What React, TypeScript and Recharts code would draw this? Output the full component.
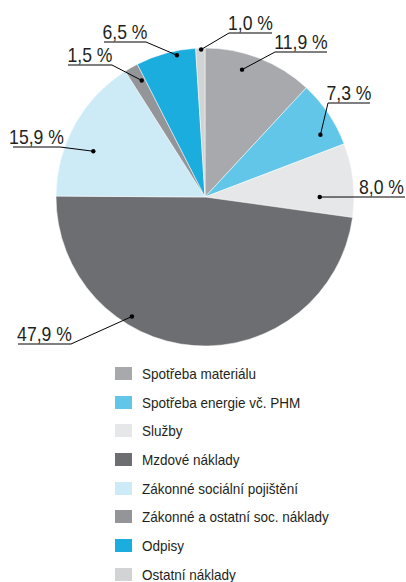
import React from 'react';
import { PieChart, Pie, Cell, Legend } from 'recharts';

// cost categories, clockwise from 12 o'clock
const categories = [
  'Spotřeba materiálu',
  'Spotřeba energie vč. PHM',
  'Služby',
  'Mzdové náklady',
  'Zákonné sociální pojištění',
  'Zákonné a ostatní soc. náklady',
  'Odpisy',
  'Ostatní náklady',
];
const shares = [11.9, 7.3, 8.0, 47.9, 15.9, 1.5, 6.5, 1.0];
const colors = ['#a7a9ac', '#62c6e8', '#e6e7e8', '#6d6e71', '#cdebf7', '#939598', '#1badde', '#d1d3d4'];

// label placement: dot radius (fraction), dot angle shift (deg, clockwise), underline x1/x2/y, leader end side
const labelLayout = [
  { r: 0.89, shift: -5.2, x1: 275, x2: 327, y: 52, side: 'left' },
  { r: 0.88, shift: 5.7, x1: 328, x2: 370, y: 103, side: 'left' },
  { r: 0.77, shift: 6.5, x1: 358, x2: 405, y: 197, side: 'left' },
  { r: 0.94, shift: 27.3, x1: 18, x2: 71, y: 344, side: 'right' },
  { r: 0.81, shift: -6.7, x1: 13, x2: 60, y: 147, side: 'right' },
  { r: 0.89, shift: 1.2, x1: 68, x2: 112, y: 65, side: 'right' },
  { r: 0.97, shift: 4.1, x1: 104, x2: 146, y: 42, side: 'right' },
  { r: 0.99, shift: 0.3, x1: 229, x2: 272, y: 33, side: 'left' },
];

const RAD = Math.PI / 180;
const FONT = '"Liberation Sans", Arial, sans-serif';

const data = categories.map((name, i) => ({ name, value: shares[i] }));

function renderLabel(props: any) {
  const { cx, cy, midAngle, outerRadius, index } = props;
  const l = labelLayout[index];
  const a = (midAngle - l.shift) * RAD;
  const dx = cx + outerRadius * l.r * Math.cos(a);
  const dy = cy - outerRadius * l.r * Math.sin(a);
  const ex = l.side === 'left' ? l.x1 : l.x2;
  return (
    <g key={`lbl-${index}`}>
      <polyline
        points={`${dx},${dy} ${ex},${l.y} ${l.side === 'left' ? l.x2 : l.x1},${l.y}`}
        fill="none"
        stroke="#000"
        strokeWidth={1}
      />
      <circle cx={dx} cy={dy} r={2.2} fill="#000" />
      <text
        transform={`translate(${(l.x1 + l.x2) / 2},${l.y - 3}) scale(0.88,1)`}
        textAnchor="middle"
        fontFamily={FONT}
        fontSize={20}
        fill="#231f20"
      >
        {shares[index].toFixed(1).replace('.', ',')} %
      </text>
    </g>
  );
}

function LegendBox() {
  return (
    <div style={{ fontFamily: FONT, fontSize: 15, color: '#231f20' }}>
      {categories.map((c, i) => (
        <div key={c} style={{ display: 'flex', alignItems: 'center', height: 28.7, whiteSpace: 'nowrap' }}>
          <span style={{ width: 17, height: 13, background: colors[i], marginRight: 10, display: 'inline-block', flexShrink: 0 }} />
          <span style={{ display: 'inline-block', transform: 'scaleX(0.9)', transformOrigin: 'left center' }}>{c}</span>
        </div>
      ))}
    </div>
  );
}

export default function App() {
  return (
    <div style={{ position: 'fixed', top: 0, left: 0, width: 406, height: 582, background: '#fff', overflow: 'hidden' }}>
      <PieChart width={406} height={582} margin={{ top: 0, right: 0, bottom: 0, left: 0 }}>
        <Pie
          data={data}
          dataKey="value"
          nameKey="name"
          cx={205}
          cy={197}
          outerRadius={149}
          startAngle={90}
          endAngle={-270}
          stroke="#fff"
          strokeWidth={0.5}
          label={renderLabel}
          labelLine={false}
          isAnimationActive={false}
        >
          {data.map((d, i) => (
            <Cell key={d.name} fill={colors[i]} />
          ))}
        </Pie>
        <Legend
          content={() => <LegendBox />}
          wrapperStyle={{ position: 'absolute', top: 359, left: 115, width: 260, bottom: 'auto' }}
        />
      </PieChart>
    </div>
  );
}
